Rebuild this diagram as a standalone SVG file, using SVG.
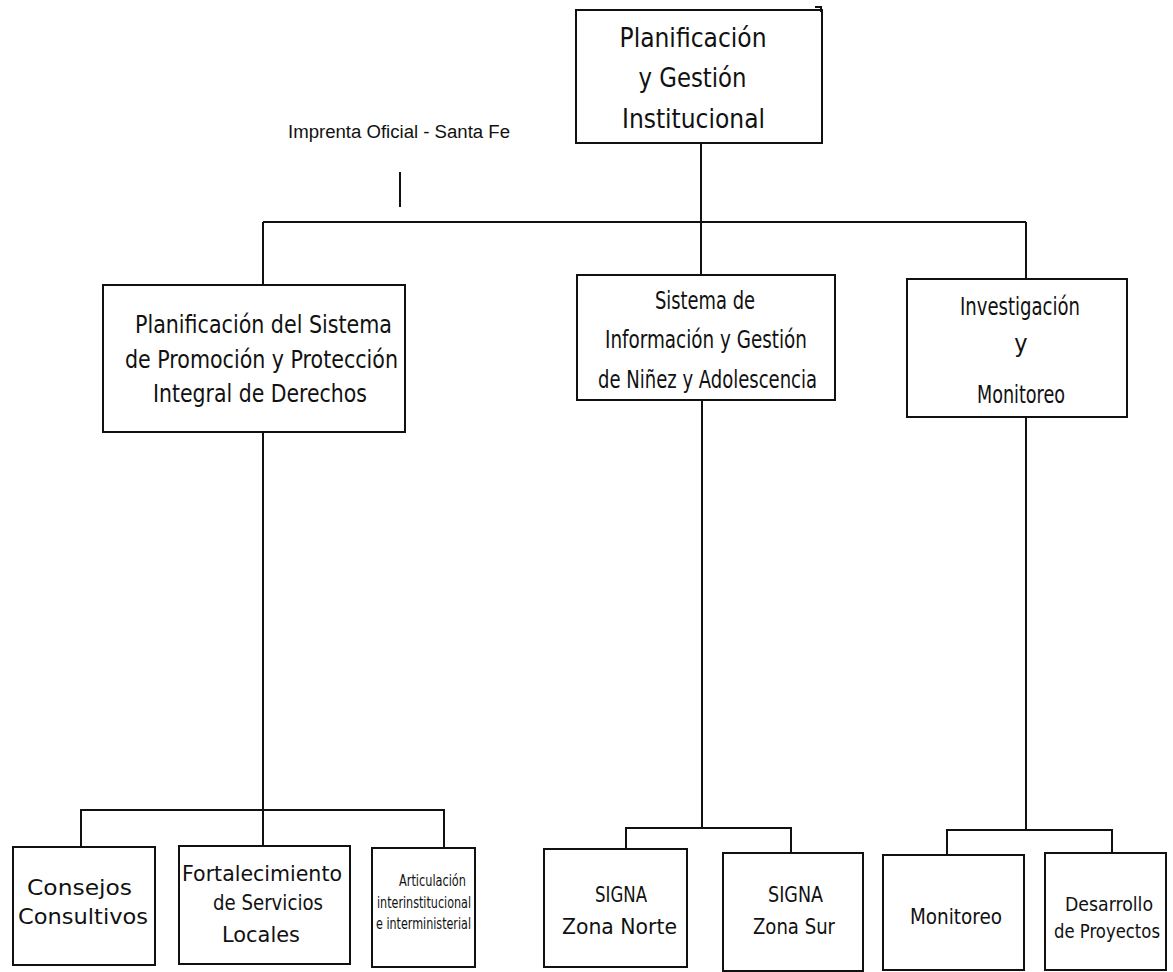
<svg xmlns="http://www.w3.org/2000/svg" width="1173" height="972" viewBox="0 0 1173 972">
<style>
.box{fill:#fff;stroke:#111;stroke-width:2}
.ln{stroke:#111;stroke-width:2;fill:none}
text{font-family:"DejaVu Sans","Liberation Sans",sans-serif;fill:#111;text-anchor:middle}
.c{font-stretch:condensed}
.t1{font-size:27px}
.t2{font-size:25px}
.t3{font-size:22px}
.t4{font-size:15px}
.t5{font-size:20px}
.note{font-family:"Liberation Sans",Arial,sans-serif;font-size:18px}
</style>
<rect width="1173" height="972" fill="#fff"/>
<g id="connectors">
<path class="ln" d="M701 143V277"/>
<path class="ln" d="M263 222H1026"/>
<path class="ln" d="M263 222V285"/>
<path class="ln" d="M1026 222V279"/>
<path class="ln" d="M263 432V846"/>
<path class="ln" d="M81 847V810H444V848"/>
<path class="ln" d="M702 400V828"/>
<path class="ln" d="M626 849V828H791V853"/>
<path class="ln" d="M1026 417V830"/>
<path class="ln" d="M947 855V830H1112V853"/>
</g>
<g id="note">
<text class="note" x="399" y="138" textLength="222" lengthAdjust="spacingAndGlyphs">Imprenta Oficial - Santa Fe</text>
<path class="ln" d="M400 172V207"/>
</g>
<g id="n-top">
<rect class="box" x="576" y="10" width="246" height="133"/>
<path class="ln" d="M815 7H821V12"/>
<text class="t1 c" x="693" y="47" textLength="147" lengthAdjust="spacingAndGlyphs">Planificación</text>
<text class="t1 c" x="692.5" y="87" textLength="108" lengthAdjust="spacingAndGlyphs">y Gestión</text>
<text class="t1 c" x="693.5" y="128" textLength="143" lengthAdjust="spacingAndGlyphs">Institucional</text>
</g>
<g id="n-planif">
<rect class="box" x="103" y="285" width="302" height="147"/>
<text class="t2 c" x="263.5" y="333" textLength="257" lengthAdjust="spacingAndGlyphs">Planificación del Sistema</text>
<text class="t2 c" x="261.5" y="368" textLength="273" lengthAdjust="spacingAndGlyphs">de Promoción y Protección</text>
<text class="t2 c" x="260" y="402" textLength="214" lengthAdjust="spacingAndGlyphs">Integral de Derechos</text>
</g>
<g id="n-sistema">
<rect class="box" x="577" y="275" width="258" height="125"/>
<text class="t2 c" x="705" y="309" textLength="100" lengthAdjust="spacingAndGlyphs">Sistema de</text>
<text class="t2 c" x="706" y="348" textLength="202" lengthAdjust="spacingAndGlyphs">Información y Gestión</text>
<text class="t2 c" x="707.5" y="388" textLength="219" lengthAdjust="spacingAndGlyphs">de Niñez y Adolescencia</text>
</g>
<g id="n-invest">
<rect class="box" x="907" y="279" width="220" height="138"/>
<text class="t2 c" x="1020" y="315" textLength="120" lengthAdjust="spacingAndGlyphs">Investigación</text>
<text class="t2 c" x="1021" y="352">y</text>
<text class="t2 c" x="1021" y="403" textLength="88" lengthAdjust="spacingAndGlyphs">Monitoreo</text>
</g>
<g id="n-consejos">
<rect class="box" x="13" y="847" width="142" height="118"/>
<text class="t3" x="79.5" y="895" textLength="105" lengthAdjust="spacingAndGlyphs">Consejos</text>
<text class="t3" x="83" y="924" textLength="130" lengthAdjust="spacingAndGlyphs">Consultivos</text>
</g>
<g id="n-fortalec">
<rect class="box" x="179" y="846" width="171" height="118"/>
<text class="t3" x="262" y="881" textLength="160" lengthAdjust="spacingAndGlyphs">Fortalecimiento</text>
<text class="t3" x="268" y="910" textLength="110" lengthAdjust="spacingAndGlyphs">de Servicios</text>
<text class="t3" x="261" y="942" textLength="78" lengthAdjust="spacingAndGlyphs">Locales</text>
</g>
<g id="n-articul">
<rect class="box" x="372" y="848" width="103" height="119"/>
<text class="t4 c" x="432.5" y="886" textLength="67" lengthAdjust="spacingAndGlyphs">Articulación</text>
<text class="t4 c" x="424" y="908" textLength="94" lengthAdjust="spacingAndGlyphs">interinstitucional</text>
<text class="t4 c" x="423.5" y="929" textLength="95" lengthAdjust="spacingAndGlyphs">e interministerial</text>
</g>
<g id="n-norte">
<rect class="box" x="544" y="849" width="143" height="118"/>
<text class="t3 c" x="621" y="902" textLength="52" lengthAdjust="spacingAndGlyphs">SIGNA</text>
<text class="t3 c" x="619.5" y="934" textLength="115" lengthAdjust="spacingAndGlyphs">Zona Norte</text>
</g>
<g id="n-sur">
<rect class="box" x="723" y="853" width="140" height="118"/>
<text class="t3 c" x="795.5" y="902" textLength="55" lengthAdjust="spacingAndGlyphs">SIGNA</text>
<text class="t3 c" x="794" y="934" textLength="82" lengthAdjust="spacingAndGlyphs">Zona Sur</text>
</g>
<g id="n-monit">
<rect class="box" x="883" y="855" width="141" height="115"/>
<text class="t3 c" x="956" y="924" textLength="92" lengthAdjust="spacingAndGlyphs">Monitoreo</text>
</g>
<g id="n-desarr">
<rect class="box" x="1045" y="853" width="121" height="117"/>
<text class="t5 c" x="1109" y="911" textLength="88" lengthAdjust="spacingAndGlyphs">Desarrollo</text>
<text class="t5 c" x="1107" y="938" textLength="106" lengthAdjust="spacingAndGlyphs">de Proyectos</text>
</g>
</svg>
